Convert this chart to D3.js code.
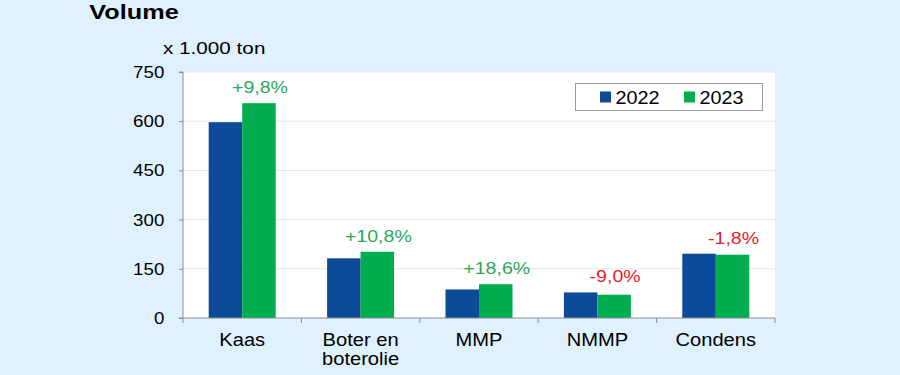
<!DOCTYPE html>
<html><head><meta charset="utf-8">
<script src="https://cdn.jsdelivr.net/npm/d3@7"></script>
<style>
html,body{margin:0;padding:0;background:#dff1fc;}
svg{display:block;font-family:"Liberation Sans",Arial,sans-serif;}
</style></head>
<body>
<svg id="c" width="900" height="375"></svg>
<script>
const categories = [["Kaas"], ["Boter en", "boterolie"], ["MMP"], ["NMMP"], ["Condens"]];
const series = ["2022", "2023"];
const values2022 = [597, 182, 87, 78, 196];
const values2023 = [655, 202, 103, 71, 193];
const changeLabels = ["+9,8%", "+10,8%", "+18,6%", "-9,0%", "-1,8%"];
const yTicks = [0, 150, 300, 450, 600, 750];
const colors = {"2022": "#0d4b98", "2023": "#00ad4f"};

const svg = d3.select("#c");
const m = {l: 183, r: 775, t: 72, b: 318};
const x = d3.scaleBand().domain(d3.range(categories.length)).range([m.l, m.r]).paddingInner(0).paddingOuter(0);
const y = d3.scaleLinear().domain([0, 750]).range([m.b, m.t]);
const inner = d3.scaleBand().domain(series).range([0, x.bandwidth()]).paddingInner(0).paddingOuter(0.767);

function stext(parent, tx, ty, sx, txt, size, anchor, extra) {
  const gg = parent.append("g").attr("transform", `translate(${tx},${ty}) scale(${sx},1)`);
  const t = gg.append("text").attr("x", 0).attr("y", 0).attr("font-size", size)
    .attr("text-anchor", anchor || "start").attr("fill", "#000").text(txt);
  if (extra) extra(t);
  return t;
}

svg.append("rect").attr("x", m.l).attr("y", m.t).attr("width", m.r - m.l).attr("height", m.b - m.t).attr("fill", "#fff");

// gridlines
svg.append("g").selectAll("line").data(yTicks.filter(d => d > 0)).join("line")
  .attr("x1", m.l).attr("x2", m.r).attr("y1", d => y(d)).attr("y2", d => y(d))
  .attr("stroke", "#e6e6e6").attr("stroke-width", 1);

// bars
const data = categories.map((c, i) => ({i, v: {"2022": values2022[i], "2023": values2023[i]}}));
const g = svg.append("g").selectAll("g").data(data).join("g").attr("transform", d => `translate(${x(d.i)},0)`);
g.selectAll("rect").data(d => series.map(s => ({s, v: d.v[s]}))).join("rect")
  .attr("x", d => inner(d.s)).attr("width", inner.bandwidth())
  .attr("y", d => y(d.v)).attr("height", d => y(0) - y(d.v))
  .attr("fill", d => colors[d.s]);

// change labels
const cl = svg.append("g");
data.forEach((d, i) => {
  const cx = x(d.i) + inner("2023") + inner.bandwidth() / 2 + 1;
  const cy = y(Math.max(d.v["2022"], d.v["2023"])) - 10;
  stext(cl, cx, cy, 1.2, changeLabels[i], 16.3, "middle",
    t => t.attr("fill", changeLabels[i].startsWith("-") ? "#e8202a" : "#2ca85a"));
});

// y axis
const sxTick = 1.1;
const yAxis = d3.axisLeft(y).tickValues(yTicks).tickSize(4).tickPadding(14).tickFormat(d3.format("d"));
const ya = svg.append("g").attr("transform", `translate(${m.l},0)`).call(yAxis);
ya.select(".domain").attr("stroke", "#8c8c8c").attr("d", `M-4,${m.t}H0V${m.b}H-4`);
ya.selectAll(".tick line").attr("stroke", "#8c8c8c");
ya.selectAll(".tick text").attr("font-size", 17).attr("fill", "#000")
  .attr("font-family", "Liberation Sans, Arial, sans-serif")
  .attr("x", -18.7 / sxTick).attr("transform", `scale(${sxTick},1)`);

// x axis
const xa = svg.append("g").attr("transform", `translate(0,${m.b})`);
xa.append("line").attr("x1", m.l).attr("x2", m.r).attr("y1", 0).attr("y2", 0).attr("stroke", "#8c8c8c");
xa.selectAll("line.t").data(d3.range(categories.length + 1)).join("line").attr("class", "t")
  .attr("x1", i => m.l + i * x.bandwidth()).attr("x2", i => m.l + i * x.bandwidth())
  .attr("y1", 0).attr("y2", 5).attr("stroke", "#8c8c8c");
categories.forEach((lines, i) => {
  lines.forEach((ln, j) => {
    stext(xa, x(i) + x.bandwidth() / 2, 27.7 + j * 19, 1.1, ln, 18.3, "middle");
  });
});

// titles
stext(svg, 89.3, 19.3, 1.29, "Volume", 19.6, "start", t => t.attr("font-weight", "bold"));
stext(svg, 163, 54, 1.31, "x 1.000 ton", 15.8, "start");

// legend
const lg = svg.append("g");
lg.append("rect").attr("x", 575.5).attr("y", 83.5).attr("width", 187).attr("height", 27).attr("fill", "#fff").attr("stroke", "#999");
series.forEach((s, i) => {
  const lx = 600 + i * 84;
  lg.append("rect").attr("x", lx).attr("y", 91.5).attr("width", 11).attr("height", 11).attr("fill", colors[s]);
  stext(lg, lx + 15.5, 104, 1.12, s, 17.7, "start");
});
</script>
</body></html>
